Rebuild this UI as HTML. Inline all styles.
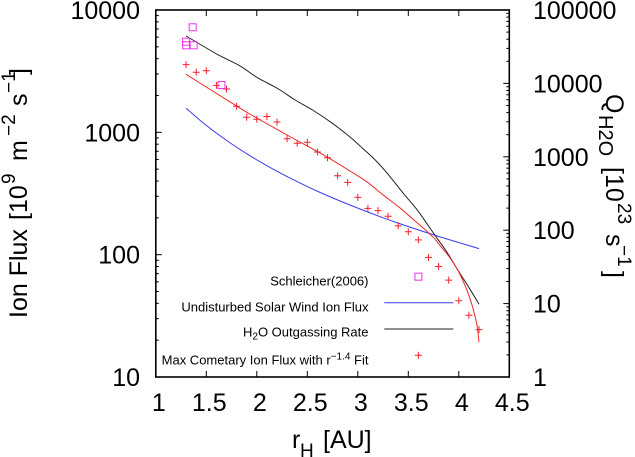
<!DOCTYPE html>
<html>
<head>
<meta charset="utf-8">
<style>
html,body{margin:0;padding:0;background:#fff}
svg{display:block;font-family:"Liberation Sans",sans-serif}
</style>
</head>
<body>
<svg id="chart" xmlns="http://www.w3.org/2000/svg" width="635" height="457" viewBox="0 0 635 457">
<rect width="635" height="457" fill="#fff"/>
<text transform="translate(27,318) rotate(-90)" font-size="25">Ion Flux <tspan x="98">[10</tspan><tspan x="134" dy="-12" font-size="19">9</tspan><tspan x="157" dy="12">m</tspan><tspan x="182" dy="-12" font-size="19">−2</tspan><tspan x="212" dy="12">s</tspan><tspan x="225" dy="-12" font-size="19">−1</tspan><tspan x="243" dy="12">]</tspan></text>
<text transform="translate(606,94) rotate(90)" font-size="25">Q<tspan x="21" dy="7" font-size="20">H2O</tspan><tspan x="73" dy="-7">[10</tspan><tspan x="109" dy="-12" font-size="19">23</tspan><tspan x="140" dy="12">s</tspan><tspan x="151" dy="-12" font-size="19">−1</tspan><tspan x="177" dy="12">]</tspan></text>
<text x="292" y="448" font-size="25">r<tspan x="300" dy="9" font-size="19">H</tspan><tspan x="323" dy="-9">[AU]</tspan></text>
<g font-size="13" text-anchor="end" fill="#000">
<text x="368.5" y="285.7">Schleicher(2006)</text>
<text x="368.5" y="311.7">Undisturbed Solar Wind Ion Flux</text>
<text x="368.5" y="336.7">H<tspan dy="3" font-size="10">2</tspan><tspan dy="-3">O Outgassing Rate</tspan></text>
<text x="368.5" y="364.3">Max Cometary Ion Flux with r<tspan dy="-5" font-size="10">−1.4</tspan><tspan dy="5"> Fit</tspan></text>
<line x1="384.3" x2="453.3" y1="302.7" y2="302.7" stroke="#3b3bf0" stroke-width="1"/>
<line x1="384.3" x2="453.3" y1="329" y2="329" stroke="#222" stroke-width="1"/>
</g>
<g id="plot"></g>
<g id="axes"></g>
</svg>
<script>
const radiusTicks = [1, 1.5, 2, 2.5, 3, 3.5, 4, 4.5];
const radiusTickLabels = ["1", "1.5", "2", "2.5", "3", "3.5", "4", "4.5"];
const fluxTicks = [10, 100, 1000, 10000];
const fluxTickLabels = ["10", "100", "1000", "10000"];
const rateTicks = [1, 10, 100, 1000, 10000, 100000];
const rateTickLabels = ["1", "10", "100", "1000", "10000", "100000"];

const ionRadius = [1.3,1.4,1.5,1.6,1.7,1.8,1.9,2.0,2.1,2.2,2.3,2.4,2.5,2.6,2.7,2.8,2.9,3.0,3.1,3.2,3.3,3.4,3.5,3.6,3.7,3.8,3.9,4.0,4.1,4.2];
const ionFlux = [3573,3096,3190,2423,2261,1633,1327,1278,1347,1215,887,814,829,691,620,442,390,294,239,229,206,172,154,132,95,80,62,42,32,24.4];

const schleicherRadius = [1.365,1.3,1.3,1.375,1.65];
const schleicherFlux = [7221,5508,5145,5145,2438];

const solarWindRadius = [1.3,1.5,1.7,1.9,2.1,2.3,2.6,3.0,3.4,3.8,4.2];
const solarWindFlux = [1572,1139,860,669,534,435,330,240,181,141,112];

const outgassingRadius = [1.3,1.62,1.83,2.0,2.11,2.23,2.38,2.56,2.74,2.923,3.055,3.187,3.319,3.45,3.583,3.682,3.774,3.88,3.979,4.1,4.2];
const outgassingRate = [44240,24380,17420,12110,10030,8130,5940,4274,2915,1861,1277,863,536,318,193,124,81.6,50.9,30.3,16.6,9.8];

const fitRadius = [1.3,1.8,1.93,2.3,2.69,2.923,3.088,3.252,3.418,3.55,3.75,3.81,3.91,4.01,4.11,4.18,4.2];
const fitFlux = [2981,1640,1412,951,632,483,395,307,241,194,138,120,94.8,69.5,44,26.6,19.2];

const legendSchleicherRadius = [3.6];
const legendSchleicherFlux = [66.1];
const legendIonRadius = [3.6];
const legendIonFlux = [15.05];

const NS = "http://www.w3.org/2000/svg";
const L = 155.8, R = 509.3, T = 10, B = 377;
const sx = r => L + (r - 1) * (R - L) / 3.5;
const sy = f => B - (Math.log10(f) - 1) * (B - T) / 3;
const sy2 = q => B - Math.log10(q) * (B - T) / 5;
const plot = document.getElementById("plot");
const axes = document.getElementById("axes");

function make(tag, attrs, parent) {
  const el = document.createElementNS(NS, tag);
  for (const k in attrs) el.setAttribute(k, attrs[k]);
  parent.appendChild(el);
  return el;
}
function smoothPath(p) {
  let d = "M" + p[0][0].toFixed(2) + " " + p[0][1].toFixed(2);
  for (let i = 0; i < p.length - 1; i++) {
    const a = p[Math.max(i - 1, 0)], b = p[i], c = p[i + 1], e = p[Math.min(i + 2, p.length - 1)];
    const h = c[0] - b[0];
    const ma = (c[1] - a[1]) / (c[0] - a[0]);
    const mb = (e[1] - b[1]) / (e[0] - b[0]);
    d += "C" + (b[0] + h / 3).toFixed(2) + " " + (b[1] + ma * h / 3).toFixed(2) + " " +
         (c[0] - h / 3).toFixed(2) + " " + (c[1] - mb * h / 3).toFixed(2) + " " +
         c[0].toFixed(2) + " " + c[1].toFixed(2);
  }
  return d;
}
function drawLine(xs, ys, yScale, color, name) {
  const pts = xs.map((x, i) => [sx(x), yScale(ys[i])]);
  const el = make("path", {d: smoothPath(pts), fill: "none", stroke: color, "stroke-width": 1}, plot);
  
  
}
function drawPlus(xs, ys, name) {
  xs.forEach((x, i) => {
    const px = sx(x), py = sy(ys[i]);
    const el = make("path", {d: `M${px-3.5} ${py}H${px+3.5}M${px} ${py-3.5}V${py+3.5}`, stroke: "#f5222d", "stroke-width": 1, fill: "none"}, plot);
    
    
  });
}
function drawSquares(xs, ys, name) {
  xs.forEach((x, i) => {
    const px = sx(x), py = sy(ys[i]);
    const el = make("rect", {x: px - 3.5, y: py - 3.5, width: 7, height: 7, stroke: "#ee30ee", "stroke-width": 1, fill: "none"}, plot);
    
    
  });
}
drawLine(solarWindRadius, solarWindFlux, sy, "#3b3bf0", "solar-wind-flux-line");
drawLine(outgassingRadius, outgassingRate, sy2, "#222", "outgassing-rate-line");
drawLine(fitRadius, fitFlux, sy, "#ee2a2a", "ion-flux-fit-line");
drawPlus(ionRadius, ionFlux, "ion-flux-point");
drawPlus(legendIonRadius, legendIonFlux, "legend-marker-ion-flux");
drawSquares(schleicherRadius, schleicherFlux, "schleicher-point");
drawSquares(legendSchleicherRadius, legendSchleicherFlux, "legend-marker-schleicher");

function tick(x1, y1, x2, y2, name) {
  const el = make("line", {x1, y1, x2, y2, stroke: "#000", "stroke-width": 1}, axes);
  
  
}
function label(x, y, anchor, text, name) {
  const el = make("text", {x, y, "text-anchor": anchor, "font-size": 25}, axes);
  el.textContent = text;
  
  
}
radiusTicks.forEach((r, i) => {
  const x = sx(r);
  tick(x, B, x, B - 6, "x-tick");
  tick(x, T, x, T + 6, "x-top-tick");
  label(x + 3, 411, "middle", radiusTickLabels[i], "x-tick-label");
});
fluxTicks.forEach((f, i) => {
  const y = sy(f);
  tick(L, y, L + 6, y, "y-tick");
  label(140, y + 9, "end", fluxTickLabels[i], "y-tick-label");
  if (i < fluxTicks.length - 1) {
    for (let m = 2; m < 10; m++) tick(L, sy(f * m), L + 3, sy(f * m), "y-minor-tick");
  }
});
rateTicks.forEach((q, i) => {
  const y = sy2(q);
  tick(R, y, R - 6, y, "y2-tick");
  label(533, y + 9, "start", rateTickLabels[i], "y2-tick-label");
  if (i < rateTicks.length - 1) {
    for (let m = 2; m < 10; m++) tick(R, sy2(q * m), R - 3, sy2(q * m), "y2-minor-tick");
  }
});
const frame = make("rect", {x: L, y: T, width: R - L, height: B - T, fill: "none", stroke: "#000", "stroke-width": 1.6}, axes);


</script>
</body>
</html>
